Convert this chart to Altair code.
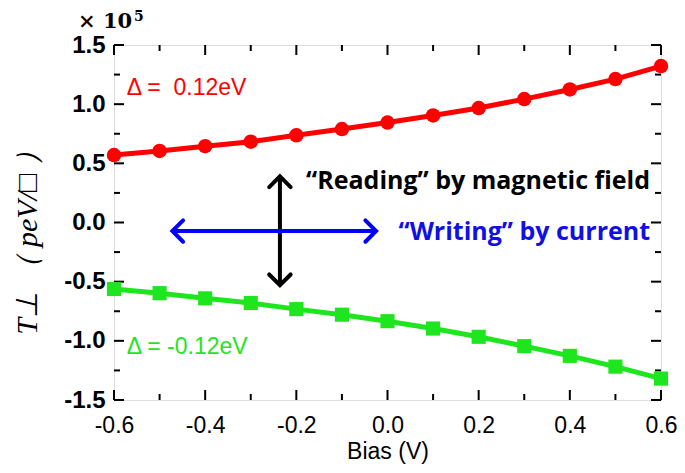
import altair as alt
import pandas as pd

# ---- data ----
bias = [-0.6, -0.5, -0.4, -0.3, -0.2, -0.1, 0.0, 0.1, 0.2, 0.3, 0.4, 0.5, 0.6]
t_pos = [0.57, 0.605, 0.645, 0.683, 0.737, 0.79, 0.845, 0.905, 0.967, 1.043, 1.124, 1.212, 1.322]
t_neg = [-0.562, -0.597, -0.641, -0.68, -0.732, -0.779, -0.834, -0.896, -0.966, -1.045, -1.127, -1.218, -1.319]

x_major = [-0.6, -0.4, -0.2, 0.0, 0.2, 0.4, 0.6]
x_minor = [-0.5, -0.3, -0.1, 0.1, 0.3, 0.5]
y_major = [-1.5, -1.0, -0.5, 0.0, 0.5, 1.0, 1.5]
y_minor = [-1.25, -0.75, -0.25, 0.25, 0.75, 1.25]

# annotation arrows (data coords): vertical "reading", horizontal "writing"
v_arrow_x = -0.236
v_arrow_y = [0.39, -0.53]
h_arrow_y = -0.072
h_arrow_x = [-0.472, -0.025]

NB = "\u00a0"
labels_text = ["Δ =" + NB + NB + "0.12eV", "Δ = -0.12eV"]
labels_x = [-0.572, -0.572]
labels_y = [1.137, -1.055]
labels_color = ["#ff0000", "#1ee61e"]

note_text = ["\u201cReading\u201d by magnetic field", "\u201cWriting\u201d by current"]
note_x = [0.576, 0.576]
note_y = [0.353, -0.078]
note_color = ["#000000", "#1010e6"]

W, H = 547, 355

xs = alt.Scale(domain=[-0.6, 0.6], nice=False, zero=False)
ys = alt.Scale(domain=[-1.5, 1.5], nice=False, zero=False)

df = pd.DataFrame({"bias": bias * 2, "T": t_pos + t_neg,
                   "series": ["pos"] * len(bias) + ["neg"] * len(bias)})

hyphen = "replace(datum.label, '\u2212', '-')"
x_axis = alt.Axis(values=x_major, format=".1f", labelExpr=hyphen, ticks=False, domain=False,
                  grid=False, labelFont="Liberation Sans", labelFontSize=23, labelColor="black",
                  labelPadding=14, labelFlush=False, labelOverlap=False,
                  title="Bias (V)", titleFont="Liberation Sans", titleFontSize=23,
                  titleFontWeight="normal", titleColor="black", titlePadding=3)
y_axis = alt.Axis(values=y_major, format=".1f", labelExpr=hyphen, ticks=False, domain=False,
                  grid=False, labelFont="Liberation Sans", labelFontSize=24,
                  labelFontWeight="bold", labelColor="black", labelPadding=9,
                  labelFlush=False, labelOverlap=False,
                  title="T⊥ \uff08 peV/□ \uff09", titleFont="Liberation Serif", titleFontSize=30,
                  titleFontStyle="italic", titleFontWeight="normal", titleColor="black",
                  titleX=-87, titleY=190, titleBaseline="middle", titleAngle=270)


def X(field):
    return alt.X(field, scale=xs, axis=x_axis)


def Y(field):
    return alt.Y(field, scale=ys, axis=y_axis)


base = alt.Chart(df)
pos = base.transform_filter(alt.datum.series == "pos")
neg = base.transform_filter(alt.datum.series == "neg")
pos_line = pos.mark_line(color="#ff0000", strokeWidth=5).encode(x=X("bias:Q"), y=Y("T:Q"))
pos_pts = pos.mark_point(shape="circle", filled=True, size=210, color="#ff0000",
                         opacity=1).encode(x=X("bias:Q"), y=Y("T:Q"))
neg_line = neg.mark_line(color="#1ee61e", strokeWidth=5).encode(x=X("bias:Q"), y=Y("T:Q"))
neg_pts = neg.mark_point(shape="square", filled=True, size=200, color="#1ee61e",
                         opacity=1).encode(x=X("bias:Q"), y=Y("T:Q"))


# ---- inward ticks on all four sides ----
def xticks(vals, length, top):
    d = pd.DataFrame({"bias": vals})
    if top:
        yy, yy2 = alt.value(0), alt.value(length)
    else:
        yy, yy2 = alt.value(H), alt.value(H - length)
    return alt.Chart(d).mark_rule(color="black", strokeWidth=2).encode(
        x=X("bias:Q"), y=yy, y2=yy2)


def yticks(vals, length, right):
    d = pd.DataFrame({"T": vals})
    if right:
        xx, xx2 = alt.value(W), alt.value(W - length)
    else:
        xx, xx2 = alt.value(0), alt.value(length)
    return alt.Chart(d).mark_rule(color="black", strokeWidth=2).encode(
        y=Y("T:Q"), x=xx, x2=xx2)


ticks = [xticks(x_major, 10, False), xticks(x_minor, 6, False),
         xticks(x_major, 10, True), xticks(x_minor, 6, True),
         yticks(y_major, 10, False), yticks(y_minor, 6, False),
         yticks(y_major, 10, True), yticks(y_minor, 6, True)]

# ---- arrows ----
v_df = pd.DataFrame({"bias": [v_arrow_x], "T": [v_arrow_y[0]], "T2": [v_arrow_y[1]]})
v_shaft = alt.Chart(v_df).mark_rule(color="black", strokeWidth=4).encode(
    x=X("bias:Q"), y=Y("T:Q"), y2="T2:Q")
h_df = pd.DataFrame({"bias": [h_arrow_x[0]], "bias2": [h_arrow_x[1]], "T": [h_arrow_y]})
h_shaft = alt.Chart(h_df).mark_rule(color="#0000ff", strokeWidth=4).encode(
    x=X("bias:Q"), x2="bias2:Q", y=Y("T:Q"))

chevron = "M-1,1L0,0L1,1"
heads_df = pd.DataFrame({
    "bias": [v_arrow_x, v_arrow_x, h_arrow_x[0], h_arrow_x[1]],
    "T": [v_arrow_y[0], v_arrow_y[1], h_arrow_y, h_arrow_y],
    "ang": [0, 180, 270, 90],
    "c": ["black", "black", "#0000ff", "#0000ff"]})
heads = alt.Chart(heads_df).mark_point(shape=chevron, filled=False, size=460,
                                       strokeWidth=4, opacity=1, strokeJoin="miter",
                                       strokeCap="round").encode(
    x=X("bias:Q"), y=Y("T:Q"),
    angle=alt.Angle("ang:Q", scale=None), color=alt.Color("c:N", scale=None))

# ---- text annotations ----
lab_df = pd.DataFrame({"t": labels_text, "bias": labels_x, "T": labels_y, "c": labels_color})
labs = alt.Chart(lab_df).mark_text(align="left", baseline="middle", font="Liberation Sans",
                                   fontSize=23).encode(
    x=X("bias:Q"), y=Y("T:Q"), text="t:N", color=alt.Color("c:N", scale=None))
note_df = pd.DataFrame({"t": note_text, "bias": note_x, "T": note_y, "c": note_color})
notes = alt.Chart(note_df).mark_text(align="right", baseline="middle", font="Open Sans",
                                     fontWeight="bold", fontSize=25).encode(
    x=X("bias:Q"), y=Y("T:Q"), text="t:N", color=alt.Color("c:N", scale=None))

exp_df = pd.DataFrame({"t": ["×" + NB + "10", "5"]})
exp_main = alt.Chart(exp_df).transform_filter(alt.datum.t != "5").mark_text(
    align="left", baseline="alphabetic", font="DejaVu Serif", fontWeight="bold",
    fontSize=21, color="black").encode(x=alt.value(-36), y=alt.value(-17), text="t:N")
exp_sup = alt.Chart(exp_df).transform_filter(alt.datum.t == "5").mark_text(
    align="left", baseline="alphabetic", font="DejaVu Serif", fontWeight="bold",
    fontSize=14, color="black").encode(x=alt.value(20), y=alt.value(-24), text="t:N")

chart = alt.layer(pos_line, neg_line, *ticks, v_shaft, h_shaft, heads,
                  pos_pts, neg_pts, labs, notes, exp_main, exp_sup).properties(
    width=W, height=H,
    autosize=alt.AutoSizeParams(type="none"),
    padding={"left": 106, "top": 37, "right": 16, "bottom": 65},
).configure_view(stroke="black", strokeWidth=2).configure(background="white")

chart.save("out.html", embed_options={"renderer": "svg", "actions": False})
